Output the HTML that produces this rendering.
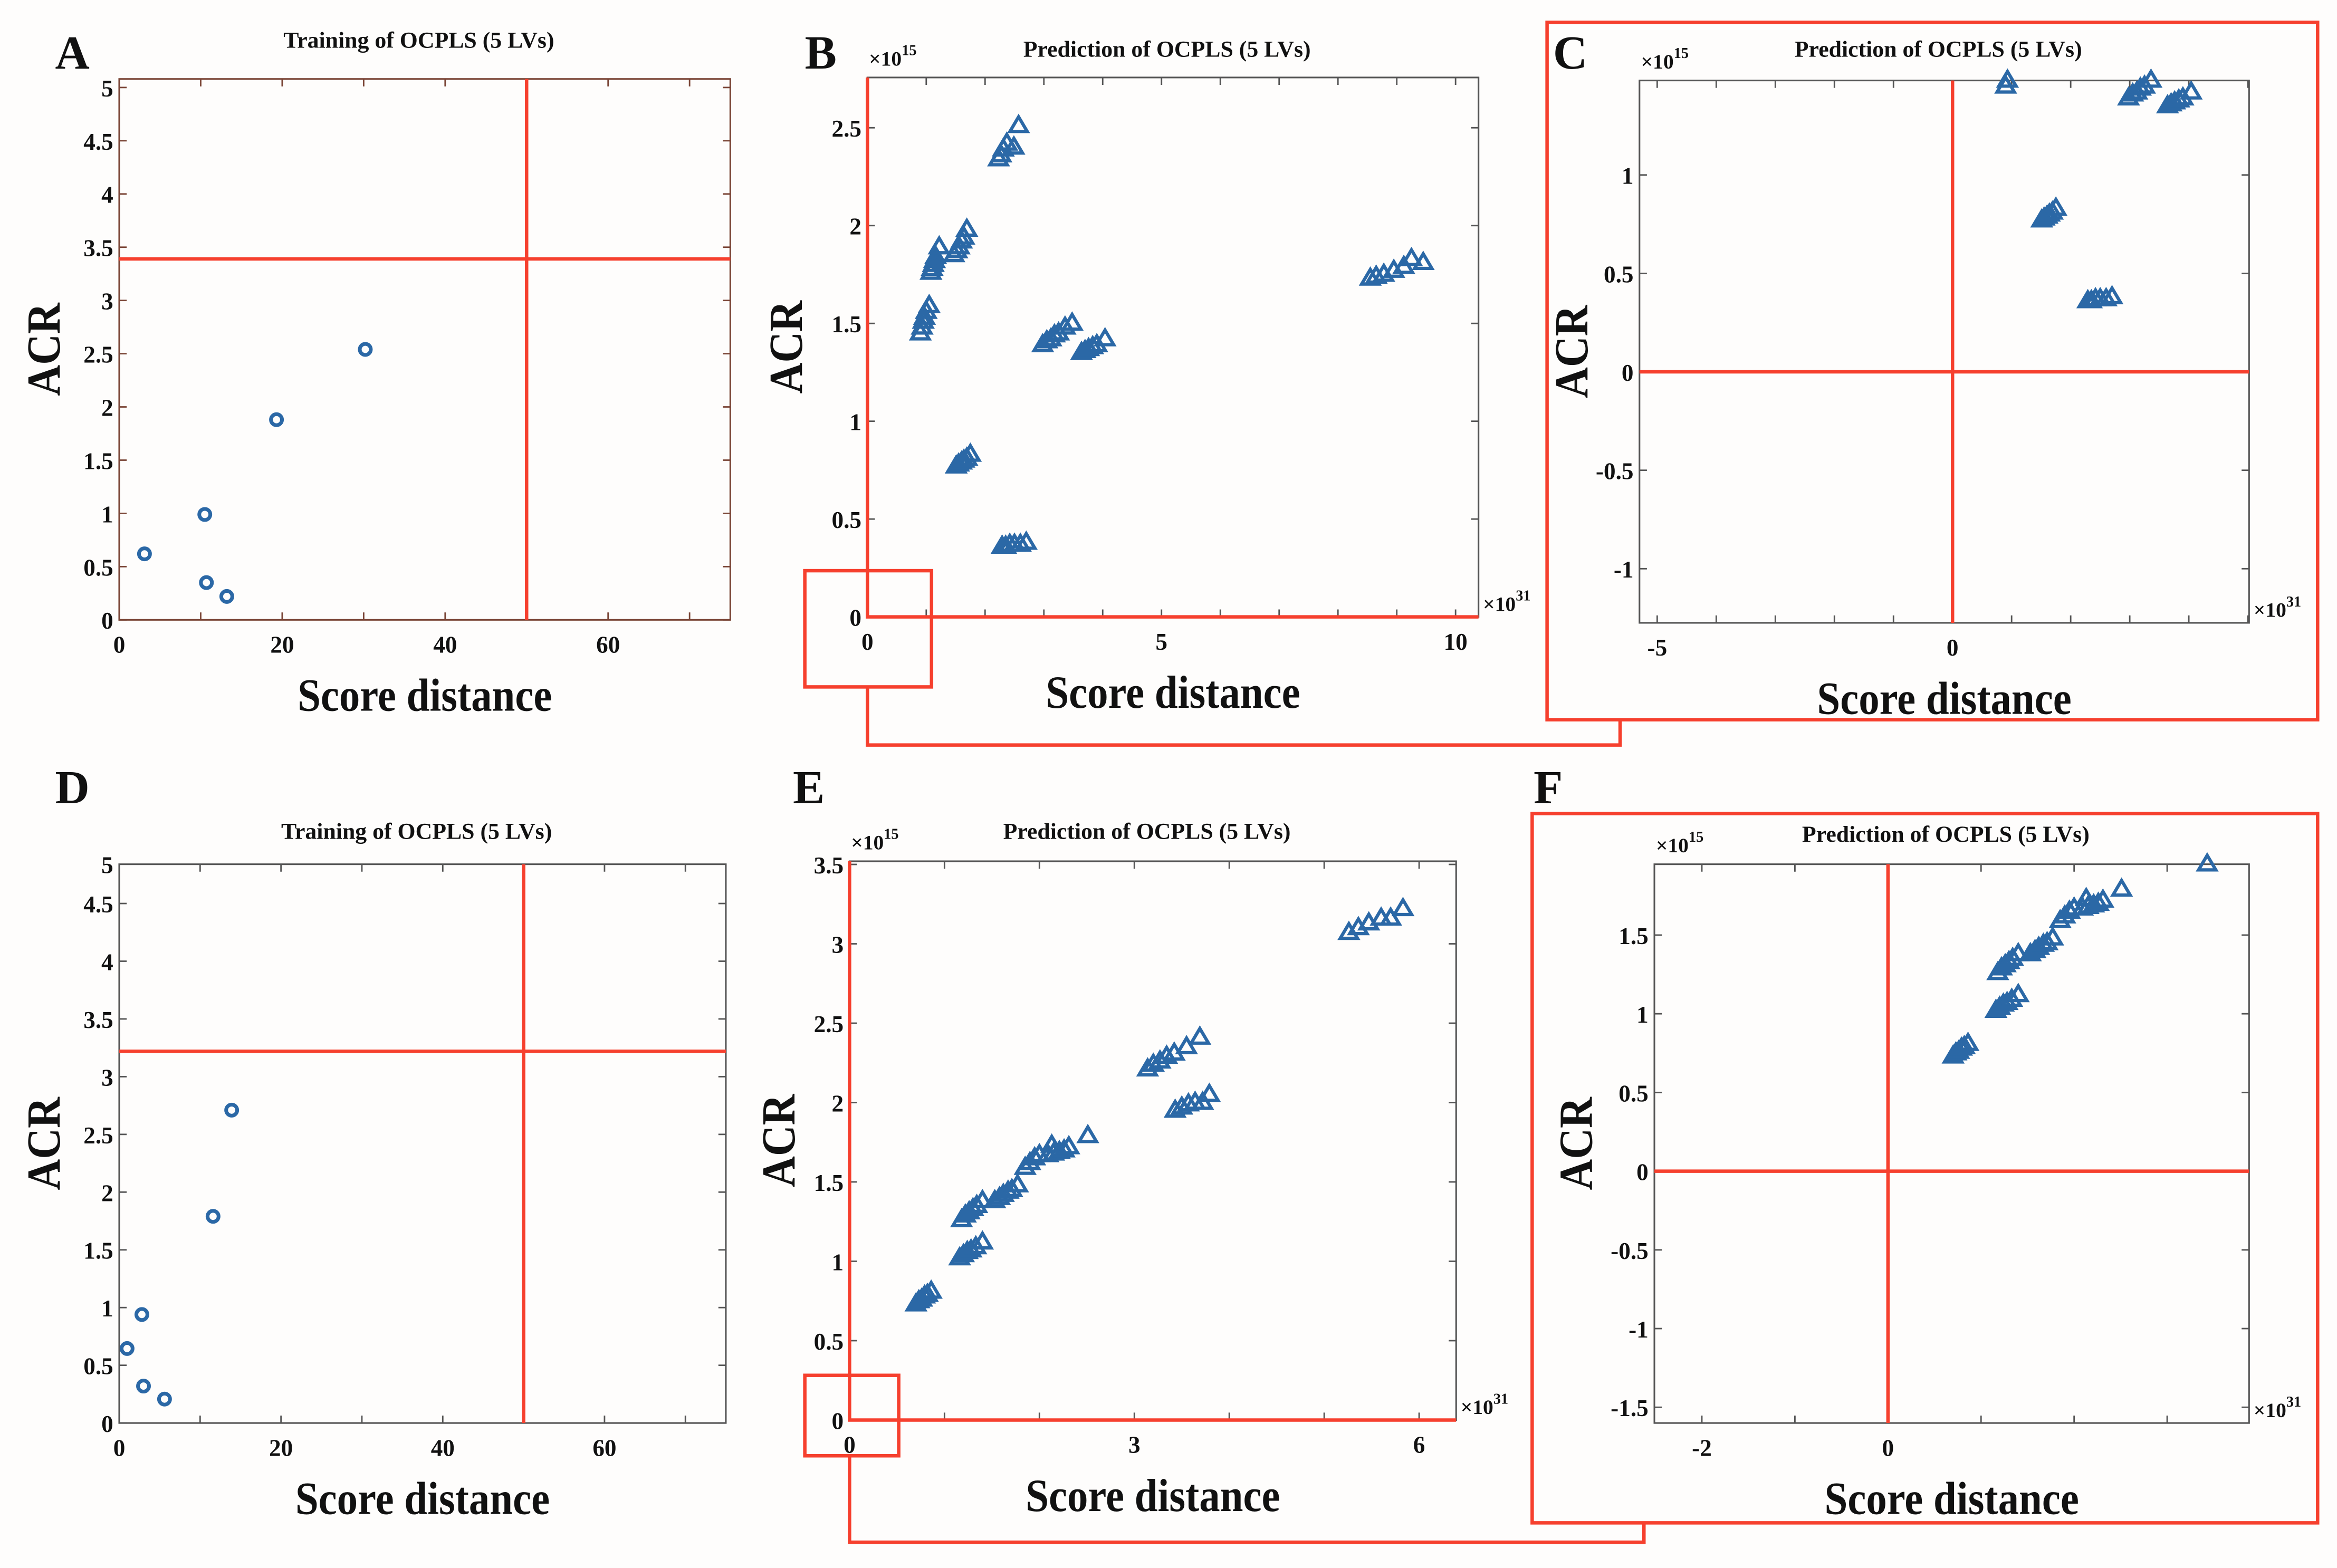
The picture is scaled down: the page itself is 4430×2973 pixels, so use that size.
<!DOCTYPE html>
<html><head><meta charset="utf-8"><style>
html,body{margin:0;padding:0;background:#fefdfc;}
svg{display:block;}
text{font-family:"Liberation Serif",serif;font-weight:bold;fill:#111;}
</style></head><body>
<svg id="fig" xmlns="http://www.w3.org/2000/svg" width="4430" height="2973" viewBox="0 0 1568 1052.3" preserveAspectRatio="none">
<rect x="0" y="0" width="1568" height="1053" fill="#fefdfc"/>
</svg>
<script>
// ---- data ----
const trainA_x = [3.1, 10.5, 10.7, 13.2, 19.3, 30.2];
const trainA_y = [0.62, 0.99, 0.35, 0.22, 1.88, 2.54];
const limitA_x = 50, limitA_y = 3.39;
const trainD_x = [0.97, 2.8, 3.0, 5.6, 11.6, 13.9];
const trainD_y = [0.645, 0.94, 0.32, 0.207, 1.79, 2.71];
const limitD_x = 50, limitD_y = 3.22;
const predB_x = [0.90,0.93,0.95,0.97,1.00,1.05, 1.08,1.10,1.12,1.14,1.16,1.22, 1.47,1.52,1.56,1.60,1.64,1.69,
 2.23,2.27,2.31,2.37,2.49,2.57, 1.51,1.55,1.60,1.64,1.69,1.75, 2.29,2.35,2.42,2.50,2.60,2.70,
 2.98,3.05,3.12,3.18,3.25,3.36,3.48, 3.64,3.70,3.76,3.83,3.90,4.04, 8.55,8.65,8.78,8.95,9.12,9.25,9.45];
const predB_y = [1.45,1.48,1.51,1.53,1.56,1.59, 1.76,1.78,1.80,1.82,1.84,1.89, 1.85,1.87,1.89,1.92,1.94,1.98,
 2.34,2.36,2.39,2.42,2.40,2.51, 0.77,0.78,0.79,0.80,0.81,0.83, 0.36,0.36,0.37,0.37,0.37,0.38,
 1.39,1.41,1.42,1.44,1.45,1.48,1.50, 1.35,1.36,1.37,1.38,1.39,1.42, 1.73,1.74,1.75,1.77,1.79,1.83,1.81];
const predE_x = [0.70,0.73,0.76,0.79,0.82,0.86, 1.16,1.20,1.24,1.28,1.33,1.40, 1.18,1.22,1.26,1.30,1.34,1.40,
 1.53,1.58,1.62,1.67,1.71,1.77, 1.85,1.90,1.95,2.00,2.13, 2.09,2.15,2.21,2.26,2.31, 2.51,
 3.14,3.20,3.27,3.34,3.42,3.55,3.69, 3.43,3.50,3.57,3.64,3.72,3.79, 5.26,5.36,5.47,5.60,5.70,5.83];
const predE_y = [0.73,0.75,0.76,0.78,0.79,0.81, 1.02,1.04,1.06,1.07,1.09,1.12, 1.26,1.29,1.31,1.33,1.35,1.38,
 1.38,1.40,1.42,1.44,1.45,1.48, 1.59,1.62,1.65,1.67,1.73, 1.67,1.68,1.69,1.70,1.72, 1.79,
 2.21,2.24,2.26,2.29,2.31,2.35,2.41, 1.95,1.97,1.99,2.00,2.00,2.05, 3.07,3.10,3.13,3.16,3.16,3.22];
const ticksA_x = [0,10,20,30,40,50,60,70], labelsA_x = ["0","","20","","40","","60",""];
const ticksA_y = [0,0.5,1,1.5,2,2.5,3,3.5,4,4.5,5], labelsA_y = ["0","0.5","1","1.5","2","2.5","3","3.5","4","4.5","5"];
const ticksB_x = [0,1,2,3,4,5,6,7,8,9,10], labelsB_x = ["0","","","","","5","","","","","10"];
const ticksB_y = [0,0.5,1,1.5,2,2.5], labelsB_y = ["0","0.5","1","1.5","2","2.5"];
const ticksC_x = [-5,-4,-3,-2,-1,0,1,2,3,4,5], labelsC_x = ["-5","","","","","0","","","","",""];
const ticksC_y = [-1,-0.5,0,0.5,1], labelsC_y = ["-1","-0.5","0","0.5","1"];
const ticksE_x = [0,1,2,3,4,5,6], labelsE_x = ["0","","","3","","","6"];
const ticksE_y = [0,0.5,1,1.5,2,2.5,3,3.5], labelsE_y = ["0","0.5","1","1.5","2","2.5","3","3.5"];
const ticksF_x = [-2,-1,0,1,2,3], labelsF_x = ["-2","","0","","",""];
const ticksF_y = [-1.5,-1,-0.5,0,0.5,1,1.5], labelsF_y = ["-1.5","-1","-0.5","0","0.5","1","1.5"];

const NS = "http://www.w3.org/2000/svg";
const svg = document.getElementById('fig');
const RED = "#f6402e", BLUE = "#2b68a6";
function mk(tag, attrs, parent){ const e=document.createElementNS(NS,tag); for(const k in attrs) e.setAttribute(k,attrs[k]); (parent||svg).appendChild(e); return e; }
function txt(str, x, y, size, anchor, parent){ const t=mk('text',{x:x,y:y,'font-size':size,'text-anchor':anchor||'middle'},parent); t.textContent=str; return t; }

function panel(p){
  const g = mk('g',{});
  
  
  const sx = v => p.box[0] + (v - p.xlim[0])/(p.xlim[1]-p.xlim[0])*(p.box[2]-p.box[0]);
  const sy = v => p.box[3] - (v - p.ylim[0])/(p.ylim[1]-p.ylim[0])*(p.box[3]-p.box[1]);
  const [x0,y0,x1,y1] = p.box;
  const fr = mk('rect',{x:x0,y:y0,width:x1-x0,height:y1-y0,fill:'#fefdfc',stroke:p.axc,'stroke-width':1.1},g);
  
  
  const tl = 5;
  p.xt.forEach((v,i)=>{
    const x = sx(v);
    if(v >= p.xlim[0] && v <= p.xlim[1]){
      mk('line',{x1:x,y1:y1,x2:x,y2:y1-tl,stroke:p.axc,'stroke-width':1},g);
      mk('line',{x1:x,y1:y0,x2:x,y2:y0+tl,stroke:p.axc,'stroke-width':1},g);
    }
    if(p.xl[i]){ const t=txt(p.xl[i], x, y1+22, 16, 'middle', g);
      
       }
  });
  p.yt.forEach((v,i)=>{
    const y = sy(v);
    if(v >= p.ylim[0] && v <= p.ylim[1]){
      mk('line',{x1:x0,y1:y,x2:x0+tl,y2:y,stroke:p.axc,'stroke-width':1},g);
      mk('line',{x1:x1,y1:y,x2:x1-tl,y2:y,stroke:p.axc,'stroke-width':1},g);
    }
    if(p.yl[i]){ const yy = Math.max(y, y0) ; const t=txt(p.yl[i], x0-4, yy+6, 16, 'end', g);
      
       }
  });
  if(p.vline!==undefined){ const l=mk('line',{x1:sx(p.vline),y1:y0,x2:sx(p.vline),y2:y1,stroke:RED,'stroke-width':2.3},g);
      }
  if(p.hline!==undefined){ const l=mk('line',{x1:x0,y1:sy(p.hline),x2:x1,y2:sy(p.hline),stroke:RED,'stroke-width':2.3},g);
      }
  if(p.redAxes){
    const l=mk('polyline',{points:`${x0},${y0} ${x0},${y1} ${x1},${y1}`,fill:'none',stroke:RED,'stroke-width':2.3},g);
     
  }
  p.dx.forEach((xv,i)=>{
    const yv = p.dy[i];
    if(xv < p.xlim[0] || xv > p.xlim[1] || yv < p.ylim[0] || yv > p.ylim[1]+0.005) return;
    const cx = sx(xv), cy = sy(yv);
    let m;
    if(p.marker==='circle'){
      m = mk('circle',{cx:cx,cy:cy,r:3.7,fill:'none',stroke:BLUE,'stroke-width':2.5},g);
    } else {
      m = mk('polygon',{points:`${cx},${cy-6} ${cx-5.8},${cy+3.8} ${cx+5.8},${cy+3.8}`,fill:'none',stroke:BLUE,'stroke-width':2.2,'stroke-linejoin':'miter'},g);
    }
    
    
  });
  const tt = txt(p.title, (x0+x1)/2 - 4, p.titleY, 15.5, 'middle', g);
   
  const lt = txt(p.id, p.letter[0], p.letter[1], 32, 'start', g);
   
  const xa = mk('text',{x:0,y:0,'font-size':31,'text-anchor':'middle',transform:`translate(${(x0+x1)/2},${y1+61}) scale(0.9,1)`},g);
  xa.textContent='Score distance';
   
  const ya = mk('text',{x:0,y:0,'font-size':32,'text-anchor':'middle',transform:`translate(${p.ylx},${(y0+y1)/2}) rotate(-90) scale(0.9,1)`},g);
  ya.textContent='ACR';
   
  if(p.exp){
    const e1 = mk('text',{x:x0+1,y:y0-8,'font-size':14,'text-anchor':'start'},g);
    e1.textContent='\u00d710';
    const s1 = mk('tspan',{dy:-7,'font-size':10},e1); s1.textContent='15';
     
    const e2 = mk('text',{x:x1+3,y:y1-4,'font-size':14,'text-anchor':'start'},g);
    e2.textContent='\u00d710';
    const s2 = mk('tspan',{dy:-7,'font-size':10},e2); s2.textContent='31';
     
  }
}

panel({id:'A',box:[80,53,490,416],xlim:[0,75],ylim:[0,5.08],xt:ticksA_x,xl:labelsA_x,yt:ticksA_y,yl:labelsA_y,
  axc:'#7a4536',dx:trainA_x,dy:trainA_y,marker:'circle',vline:limitA_x,hline:limitA_y,
  title:'Training of OCPLS (5 LVs)',titleY:32,letter:[37,46],ylx:40});
panel({id:'B',box:[582,52,992,414],xlim:[0,10.39],ylim:[0,2.757],xt:ticksB_x,xl:labelsB_x,yt:ticksB_y,yl:labelsB_y,
  axc:'#555',dx:predB_x,dy:predB_y,marker:'tri',redAxes:true,exp:true,
  title:'Prediction of OCPLS (5 LVs)',titleY:38,letter:[540,46],ylx:538});
panel({id:'C',box:[1100,54,1509,418],xlim:[-5.30,5.02],ylim:[-1.275,1.48],xt:ticksC_x,xl:labelsC_x,yt:ticksC_y,yl:labelsC_y,
  axc:'#555',dx:predB_x,dy:predB_y,marker:'tri',vline:0,hline:0,exp:true,
  title:'Prediction of OCPLS (5 LVs)',titleY:38,letter:[1042,46],ylx:1065});
panel({id:'D',box:[80,580,487,955],xlim:[0,75],ylim:[0,4.84],xt:ticksA_x,xl:labelsA_x,yt:ticksA_y,yl:labelsA_y,
  axc:'#555',dx:trainD_x,dy:trainD_y,marker:'circle',vline:limitD_x,hline:limitD_y,
  title:'Training of OCPLS (5 LVs)',titleY:563,letter:[37,539],ylx:40});
panel({id:'E',box:[570,578,977,953],xlim:[0,6.39],ylim:[0,3.52],xt:ticksE_x,xl:labelsE_x,yt:ticksE_y,yl:labelsE_y,
  axc:'#555',dx:predE_x,dy:predE_y,marker:'tri',redAxes:true,exp:true,
  title:'Prediction of OCPLS (5 LVs)',titleY:563,letter:[532,539],ylx:533});
panel({id:'F',box:[1110,580,1509,955],xlim:[-2.51,3.88],ylim:[-1.60,1.95],xt:ticksF_x,xl:labelsF_x,yt:ticksF_y,yl:labelsF_y,
  axc:'#555',dx:predE_x,dy:predE_y,marker:'tri',vline:0,hline:0,exp:true,
  title:'Prediction of OCPLS (5 LVs)',titleY:565,letter:[1029,539],ylx:1068});

function redPath(pts, name){
  const p = mk('polyline',{points:pts,fill:'none',stroke:RED,'stroke-width':2.3});
  
  
}
const r1 = mk('rect',{x:540,y:383,width:85,height:78,fill:'none',stroke:RED,'stroke-width':2.3});
 
redPath('582,461 582,500 1087,500 1087,483','connector-b-c');
const f1 = mk('rect',{x:1038,y:15,width:517,height:468,fill:'none',stroke:RED,'stroke-width':2.3});
 
const r2 = mk('rect',{x:540,y:923,width:63,height:54,fill:'none',stroke:RED,'stroke-width':2.3});
 
redPath('570,977 570,1035 1103,1035 1103,1022','connector-e-f');
const f2 = mk('rect',{x:1028,y:546,width:527,height:476,fill:'none',stroke:RED,'stroke-width':2.3});
 
</script>
</body></html>
